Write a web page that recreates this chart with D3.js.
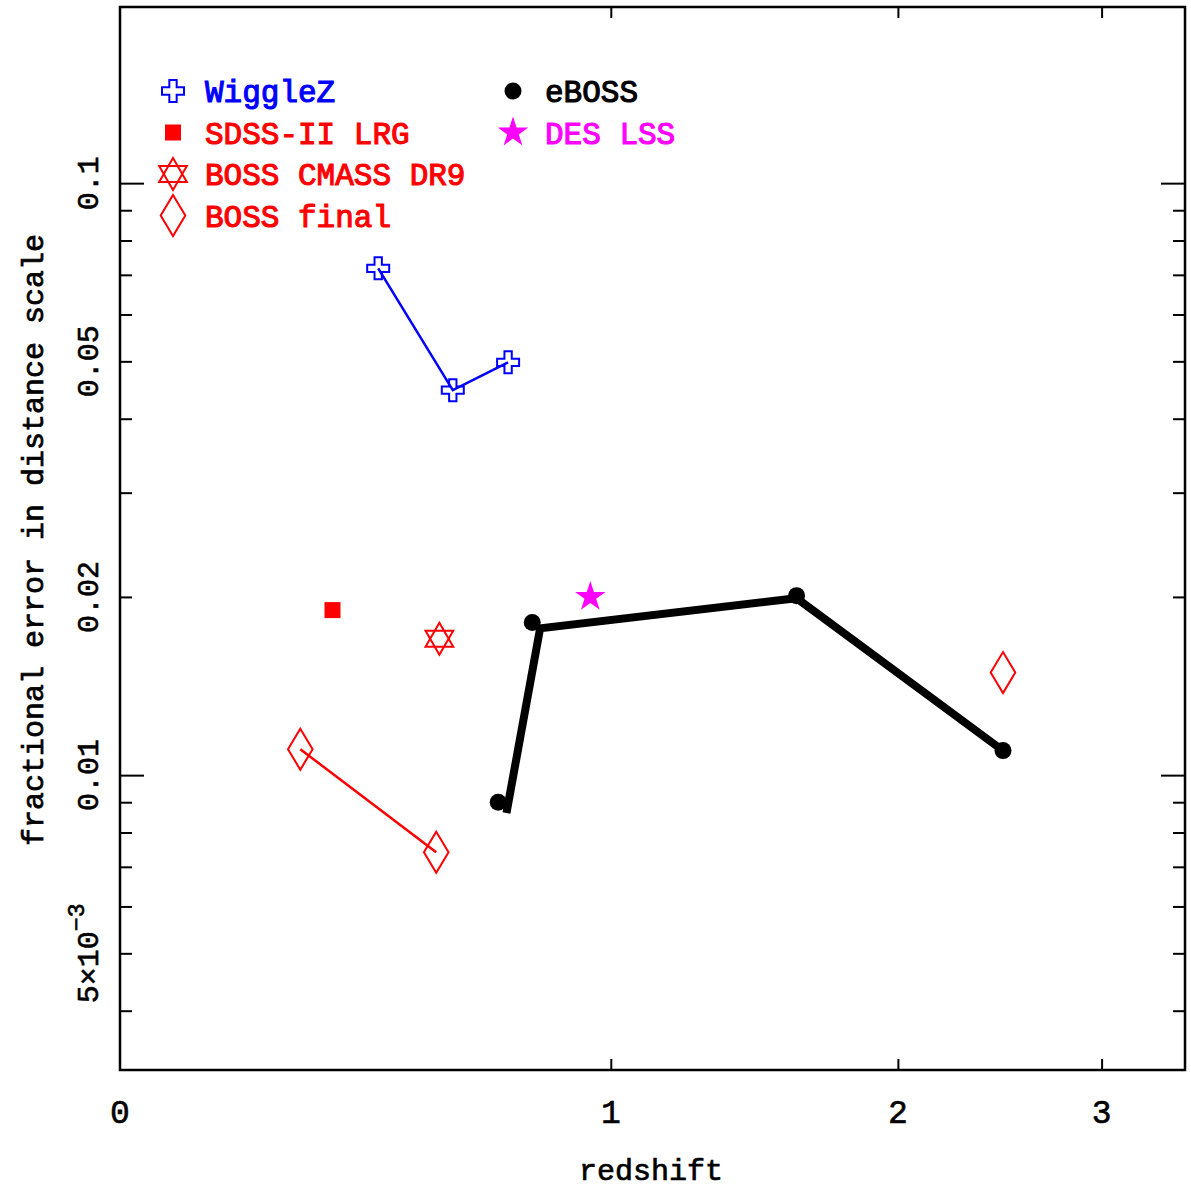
<!DOCTYPE html>
<meta charset="utf-8">
<style>
body { margin: 0; background: #fff; }
svg { display: block; }
text { font-family: "Liberation Mono", "Courier New", monospace; fill: #000; }
.axis .domain { display: none; }
.axis line { stroke: #000; stroke-width: 2px; }
.frame { fill: none; stroke: #000; stroke-width: 2.5px; }
.tick-label { font-size: 30px; stroke: #000; stroke-width: 0.6px; text-anchor: middle; }
.x-label { font-size: 33px; }
.axis-title { font-size: 30px; stroke: #000; stroke-width: 0.7px; text-anchor: middle; }
.legend text { font-size: 31px; stroke-width: 1.1px; }
.series-line { fill: none; }
</style>
<svg width="1191" height="1188"></svg>
<script src="https://d3js.org/d3.v7.min.js"></script>
<script>
// values (redshift, fractional error)
var wigglezZ = [0.44, 0.60, 0.73],
    wigglezErr = [0.0718, 0.0447, 0.0498];
var sdssZ = [0.35],
    sdssErr = [0.0190];
var cmassZ = [0.57],
    cmassErr = [0.0170];
var bossFinalZ = [0.29, 0.563],
    bossFinalErr = [0.01106, 0.00741];
var bossHighZ = [2.48],
    bossHighErr = [0.0149];
var ebossZ = [0.706, 0.79, 1.6, 2.48],
    ebossErr = [0.0090, 0.0181, 0.0201, 0.0110];
var ebossLineZ = [0.726, 0.81, 1.6, 2.48],
    ebossLineErr = [0.00863, 0.0177, 0.0199, 0.0110];
var desZ = [0.943],
    desErr = [0.0200];

var xTickZ = [0, 1, 2, 3];
var yMajor = [0.1, 0.01];
var yMinor = [0.09, 0.08, 0.07, 0.06, 0.05, 0.04, 0.03, 0.02,
              0.009, 0.008, 0.007, 0.006, 0.005, 0.004];
var yLabelVals = [0.1, 0.05, 0.02, 0.01, 0.005];

var legendNames = ["WiggleZ", "SDSS-II LRG", "BOSS CMASS DR9", "BOSS final", "eBOSS", "DES LSS"];
var legendColors = ["#0000ff", "#ff0000", "#ff0000", "#ff0000", "#000000", "#ff00ff"];

var svg = d3.select("svg"),
    margin = {top: 7, left: 120},
    width = 1065,
    height = 1063,
    g = svg.append("g").attr("transform", "translate(" + margin.left + "," + margin.top + ")");

// x is log(1+z)
var x = d3.scaleLog().domain([1, 4.5]).range([0, width]);
var y = d3.scaleLog().domain([0.003176, 0.1984]).range([height, 0]);

function zip(zs, es) { return zs.map(function(z, i) { return {z: z, e: es[i]}; }); }
function px(d) { return x(1 + d.z); }
function py(d) { return y(d.e); }

// custom marker shapes
var openCross = {draw: function(c, s) {
  var r = s / 2, a = s / 6;
  c.moveTo(-a, -r); c.lineTo(a, -r); c.lineTo(a, -a); c.lineTo(r, -a);
  c.lineTo(r, a); c.lineTo(a, a); c.lineTo(a, r); c.lineTo(-a, r);
  c.lineTo(-a, a); c.lineTo(-r, a); c.lineTo(-r, -a); c.lineTo(-a, -a); c.closePath();
}};
var hexagram = {draw: function(c, s) {
  var r = s / 2, k = Math.sqrt(3) / 2;
  c.moveTo(0, -r); c.lineTo(r * k, r / 2); c.lineTo(-r * k, r / 2); c.closePath();
  c.moveTo(0, r); c.lineTo(r * k, -r / 2); c.lineTo(-r * k, -r / 2); c.closePath();
}};
var tallDiamond = {draw: function(c, s) {
  var h = s / 2, w = s * 0.3;
  c.moveTo(0, -h); c.lineTo(w, 0); c.lineTo(0, h); c.lineTo(-w, 0); c.closePath();
}};

var markers = [
  {shape: d3.symbol().type(openCross).size(22), fill: "none", stroke: "#0000ff"},
  {shape: d3.symbol().type(d3.symbolSquare).size(256), fill: "#ff0000", stroke: "none"},
  {shape: d3.symbol().type(hexagram).size(32), fill: "none", stroke: "#ff0000"},
  {shape: d3.symbol().type(tallDiamond).size(41), fill: "none", stroke: "#ff0000"},
  {shape: d3.symbol().type(d3.symbolCircle).size(227), fill: "#000", stroke: "none"},
  {shape: d3.symbol().type(d3.symbolStar).size(287), fill: "#ff00ff", stroke: "none"}
];

// ticks
function ticks(axis, tx, len, vals) {
  g.append("g")
    .attr("class", "axis")
    .attr("transform", tx)
    .call(axis.tickValues(vals).tickSize(-len).tickFormat(""));
}
ticks(d3.axisLeft(y), "translate(0,0)", 24, yMajor);
ticks(d3.axisLeft(y), "translate(0,0)", 12, yMinor);
ticks(d3.axisRight(y), "translate(" + width + ",0)", 24, yMajor);
ticks(d3.axisRight(y), "translate(" + width + ",0)", 12, yMinor);
ticks(d3.axisBottom(x), "translate(0," + height + ")", 11, xTickZ.slice(1).map(function(z) { return 1 + z; }));
ticks(d3.axisTop(x), "translate(0,0)", 11, xTickZ.slice(1).map(function(z) { return 1 + z; }));

g.append("rect").attr("class", "frame").attr("width", width).attr("height", height);

// lines
var line = d3.line().x(px).y(py);
g.append("path").datum(zip(wigglezZ, wigglezErr)).attr("class", "series-line")
  .attr("stroke", "#0000ff").attr("stroke-width", 2.5).attr("d", line);
g.append("path").datum(zip(bossFinalZ, bossFinalErr)).attr("class", "series-line")
  .attr("stroke", "#ff0000").attr("stroke-width", 2.5).attr("d", line);
g.append("path").datum(zip(ebossLineZ, ebossLineErr)).attr("class", "series-line")
  .attr("stroke", "#000").attr("stroke-width", 8).attr("d", line);

// points
function points(data, m) {
  g.append("g").selectAll("path")
    .data(data)
    .join("path")
      .attr("transform", function(d) { return "translate(" + px(d) + "," + py(d) + ")"; })
      .attr("d", m.shape)
      .attr("fill", m.fill)
      .attr("stroke", m.stroke)
      .attr("stroke-width", 2);
}
points(zip(wigglezZ, wigglezErr), markers[0]);
points(zip(sdssZ, sdssErr), markers[1]);
points(zip(cmassZ, cmassErr), markers[2]);
points(zip(bossFinalZ, bossFinalErr).concat(zip(bossHighZ, bossHighErr)), markers[3]);
points(zip(ebossZ, ebossErr), markers[4]);
points(zip(desZ, desErr), markers[5]);

// x tick labels
svg.append("g").selectAll("text")
  .data(xTickZ)
  .join("text")
    .attr("class", "tick-label x-label")
    .attr("x", function(z) { return margin.left + x(1 + z); })
    .attr("y", 1123)
    .text(function(z) { return z; });

// y tick labels (rotated)
var yl = svg.append("g").selectAll("text")
  .data(yLabelVals)
  .join("text")
    .attr("class", "tick-label")
    .attr("transform", function(v) { return "translate(98," + (margin.top + y(v)) + ") rotate(-90)"; });
yl.filter(function(v) { return v >= 0.01; }).text(function(v) { return v; });
var sci = yl.filter(function(v) { return v < 0.01; });
sci.append("tspan").text(function(v) { return Math.round(v * 1000) + "×10"; });
sci.append("tspan").attr("dy", -14).style("font-size", "23px").text("−3");

// axis titles
svg.append("text").attr("class", "axis-title")
  .attr("x", 651).attr("y", 1180).text("redshift");
svg.append("text").attr("class", "axis-title")
  .attr("transform", "translate(43,540) rotate(-90)")
  .text("fractional error in distance scale");

// legend
var legend = svg.append("g").attr("class", "legend");
var item = legend.selectAll("g")
  .data(legendNames)
  .join("g")
    .attr("transform", function(d, i) {
      var col = i < 4 ? 0 : 1, row = i < 4 ? i : i - 4;
      return "translate(" + (173 + col * 340) + "," + (91 + row * 41.5) + ")";
    });
item.append("path")
  .attr("d", function(d, i) { return markers[i].shape(); })
  .attr("fill", function(d, i) { return markers[i].fill; })
  .attr("stroke", function(d, i) { return markers[i].stroke; })
  .attr("stroke-width", 2);
item.append("text")
  .attr("x", 32)
  .attr("y", 11)
  .style("fill", function(d, i) { return legendColors[i]; })
  .style("stroke", function(d, i) { return legendColors[i]; })
  .text(function(d) { return d; });
</script>
